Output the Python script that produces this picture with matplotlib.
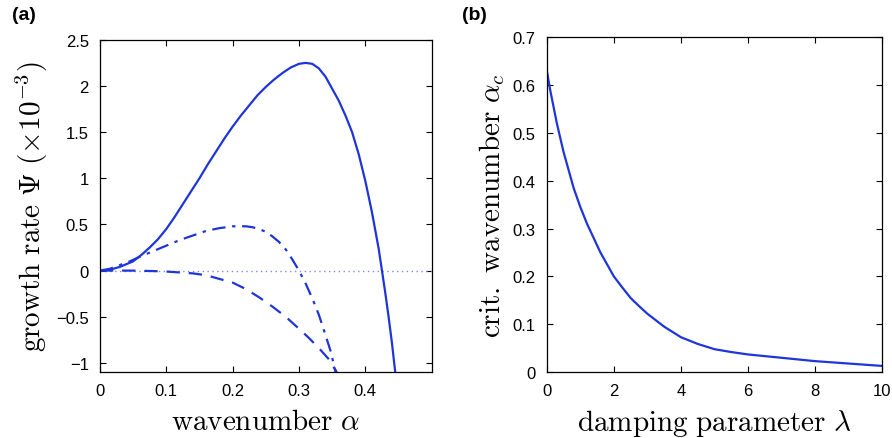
import numpy as np
import matplotlib
matplotlib.use("Agg")
import matplotlib.pyplot as plt

plt.rcParams['mathtext.fontset'] = 'cm'
plt.rcParams['font.family'] = ['Liberation Sans', 'DejaVu Sans']

# Panel (a): growth rate vs wavenumber (values in units of 1e-3)
alpha_solid = [0.0, 0.01, 0.02, 0.03, 0.04, 0.05, 0.0625, 0.075, 0.0875, 0.1, 0.1125, 0.125, 0.1375, 0.15, 0.1625,
               0.175, 0.1875, 0.2, 0.2125, 0.225, 0.2375, 0.25, 0.2625, 0.275, 0.2875, 0.3, 0.31, 0.32, 0.33, 0.34,
               0.35, 0.36, 0.37, 0.38, 0.39, 0.4, 0.41, 0.42, 0.425, 0.43, 0.435, 0.44, 0.445]
psi_solid = [0.0, 0.005, 0.02, 0.04, 0.07, 0.10, 0.17, 0.25, 0.34, 0.45, 0.58, 0.72, 0.86, 1.00, 1.15,
             1.29, 1.43, 1.56, 1.68, 1.79, 1.90, 1.99, 2.07, 2.14, 2.20, 2.24, 2.25, 2.24, 2.19, 2.10,
             1.97, 1.84, 1.68, 1.50, 1.26, 0.97, 0.63, 0.24, 0.0, -0.24, -0.50, -0.78, -1.1]

alpha_dashdot = [0.0, 0.015, 0.03, 0.045, 0.06, 0.08, 0.1, 0.12, 0.14, 0.16, 0.18, 0.2, 0.21, 0.22, 0.23, 0.24,
                 0.25, 0.26, 0.27, 0.28, 0.29, 0.3, 0.31, 0.32, 0.33, 0.34, 0.348, 0.355]
psi_dashdot = [0.0, 0.02, 0.06, 0.10, 0.15, 0.21, 0.27, 0.33, 0.38, 0.43, 0.46, 0.48, 0.48, 0.48, 0.47, 0.45,
               0.42, 0.37, 0.31, 0.23, 0.12, 0.0, -0.14, -0.30, -0.48, -0.70, -0.88, -1.1]

alpha_dashed = [0.0, 0.05, 0.08, 0.1, 0.12, 0.14, 0.16, 0.18, 0.2, 0.22, 0.24, 0.26, 0.28, 0.3, 0.315, 0.33, 0.345, 0.357]
psi_dashed = [0.0, 0.0, -0.005, -0.01, -0.02, -0.03, -0.05, -0.09, -0.13, -0.2, -0.29, -0.39, -0.5, -0.63, -0.73, -0.84, -0.96, -1.1]

# Panel (b): critical wavenumber vs damping parameter
lam = [0.0, 0.1, 0.2, 0.3, 0.4, 0.5, 0.6, 0.7, 0.8, 0.9, 1.0, 1.2, 1.4, 1.6, 1.8, 2.0, 2.25, 2.5, 2.75, 3.0,
       3.5, 4.0, 4.5, 5.0, 5.5, 6.0, 7.0, 8.0, 9.0, 10.0]
alpha_c = [0.63, 0.59, 0.555, 0.52, 0.49, 0.46, 0.435, 0.41, 0.385, 0.365, 0.345, 0.31, 0.28, 0.25, 0.225, 0.20,
           0.177, 0.155, 0.138, 0.122, 0.095, 0.073, 0.059, 0.048, 0.042, 0.037, 0.030, 0.023, 0.018, 0.013]

blue = '#1f35d8'

fig = plt.figure(figsize=(8.92, 4.39), dpi=100)
ax1 = fig.add_axes([0.112, 0.150, 0.372, 0.757])
ax2 = fig.add_axes([0.613, 0.150, 0.376, 0.763])

ax1.axhline(0, color='#7a8cf0', lw=1.0, ls=(0, (1, 2.5)))
ax1.plot(alpha_solid, psi_solid, color=blue, lw=1.6)
ax1.plot(alpha_dashdot, psi_dashdot, color=blue, lw=1.6, ls=(0, (6, 3, 1.5, 3)))
ax1.plot(alpha_dashed, psi_dashed, color=blue, lw=1.6, ls=(0, (6, 4)))
ax1.set_xlim(0, 0.5)
ax1.set_ylim(-1.1, 2.5)
ax1.set_xticks([0, 0.1, 0.2, 0.3, 0.4])
ax1.set_xticklabels(['0', '0.1', '0.2', '0.3', '0.4'])
ax1.set_yticks([-1, -0.5, 0, 0.5, 1, 1.5, 2, 2.5])
ax1.set_yticklabels(['\u22121', '\u22120.5', '0', '0.5', '1', '1.5', '2', '2.5'])
ax1.set_xlabel(r'$\mathrm{wavenumber}\ \alpha$', fontsize=21, labelpad=6)
ax1.set_ylabel(r'$\mathrm{growth\ rate}\ \Psi\ (\times 10^{-3})$', fontsize=21, labelpad=4)

ax2.plot(lam, alpha_c, color=blue, lw=1.6)
ax2.set_xlim(0, 10)
ax2.set_ylim(0, 0.7)
ax2.set_xticks([0, 2, 4, 6, 8, 10])
ax2.set_yticks([0, 0.1, 0.2, 0.3, 0.4, 0.5, 0.6, 0.7])
ax2.set_yticklabels(['0', '0.1', '0.2', '0.3', '0.4', '0.5', '0.6', '0.7'])
ax2.set_xlabel(r'$\mathrm{damping\ parameter}\ \lambda$', fontsize=21, labelpad=6)
ax2.set_ylabel(r'$\mathrm{crit.\ wavenumber}\ \alpha_c$', fontsize=21, labelpad=4)

for ax in (ax1, ax2):
    ax.tick_params(direction='in', top=True, right=True, labelsize=12, length=4, width=0.8)
    ax.tick_params(axis='y', pad=8)
    ax.tick_params(axis='x', pad=8)
    for s in ax.spines.values():
        s.set_linewidth(0.9)

fig.text(0.013, 0.985, '(a)', fontsize=14, fontweight='bold', va='top', ha='left')
fig.text(0.518, 0.985, '(b)', fontsize=14, fontweight='bold', va='top', ha='left')

fig.savefig('out.png', dpi=100)
